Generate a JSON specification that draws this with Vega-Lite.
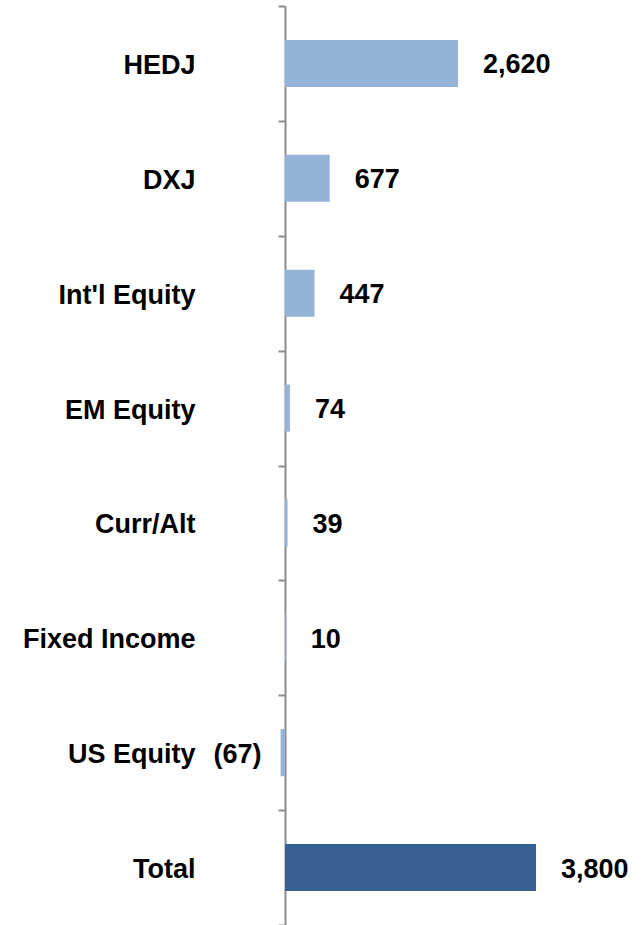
{
  "$schema": "https://vega.github.io/schema/vega-lite/v6.json",
  "autosize": {"type": "none"},
  "padding": {"left": 285, "top": 6, "right": 0, "bottom": 0},
  "width": 359,
  "height": 919,
  "background": "white",
  "data": {
    "values": [
      {"category": "HEDJ", "value": 2620, "label": "2,620", "group": "item"},
      {"category": "DXJ", "value": 677, "label": "677", "group": "item"},
      {"category": "Int'l Equity", "value": 447, "label": "447", "group": "item"},
      {"category": "EM Equity", "value": 74, "label": "74", "group": "item"},
      {"category": "Curr/Alt", "value": 39, "label": "39", "group": "item"},
      {"category": "Fixed Income", "value": 10, "label": "10", "group": "item"},
      {"category": "US Equity", "value": -67, "label": "(67)", "group": "item"},
      {"category": "Total", "value": 3800, "label": "3,800", "group": "total"}
    ]
  },
  "encoding": {
    "y": {
      "field": "category",
      "type": "nominal",
      "sort": null,
      "scale": {"paddingInner": 0, "paddingOuter": 0},
      "axis": {
        "title": null,
        "tickBand": "extent",
        "domainColor": "#8c8c8c",
        "domainWidth": 2,
        "tickColor": "#8c8c8c",
        "tickWidth": 2,
        "tickSize": 7,
        "labelPadding": 83,
        "labelOffset": 2,
        "labelFont": "Liberation Sans",
        "labelFontWeight": "bold",
        "labelFontSize": 27,
        "labelColor": "black",
        "labelAlign": "right",
        "labelBaseline": "middle"
      }
    },
    "x": {
      "field": "value",
      "type": "quantitative",
      "scale": {"domain": [0, 5435], "nice": false, "zero": true},
      "axis": null
    }
  },
  "layer": [
    {
      "mark": {"type": "bar", "height": {"band": 0.41}},
      "encoding": {
        "color": {
          "field": "group",
          "type": "nominal",
          "scale": {"domain": ["item", "total"], "range": ["#95B3D7", "#366092"]},
          "legend": null
        }
      }
    },
    {
      "transform": [{"filter": "datum.value >= 0"}],
      "mark": {"type": "text", "align": "left", "baseline": "middle", "dx": 25, "dy": 2, "font": "Liberation Sans", "fontWeight": "bold", "fontSize": 27, "color": "black"},
      "encoding": {"text": {"field": "label"}}
    },
    {
      "transform": [{"filter": "datum.value < 0"}],
      "mark": {"type": "text", "align": "right", "baseline": "middle", "dx": -19, "dy": 2, "font": "Liberation Sans", "fontWeight": "bold", "fontSize": 27, "color": "black"},
      "encoding": {"text": {"field": "label"}}
    }
  ],
  "config": {"view": {"stroke": null}, "axis": {"grid": false}}
}
